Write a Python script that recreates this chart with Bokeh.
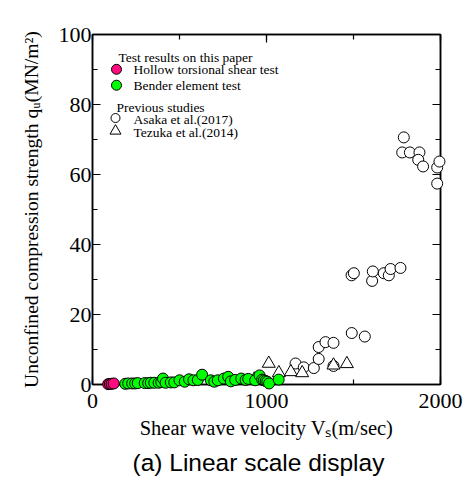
from bokeh.plotting import figure
from bokeh.models import Range1d, SingleIntervalTicker, LinearAxis, Title
from bokeh.core.properties import value
from bokeh.embed import file_html
from bokeh.resources import INLINE

# ---- data ----
hollow_vs = [90, 100, 110, 122]
hollow_qu = [0.1, 0.15, 0.2, 0.3]

bender_vs = [188, 205, 228, 245, 260, 300, 320, 335, 355, 380, 395, 405, 420, 450, 470,
             500, 530, 555, 580, 605, 630, 680, 700, 720, 755, 780, 795, 820, 855, 880,
             895, 935, 960, 975, 985, 995, 1005, 1015, 1070]
bender_qu = [0.2, 0.3, 0.3, 0.3, 0.4, 0.4, 0.4, 0.5, 0.5, 0.5, 0.7, 1.7, 0.5, 0.6, 0.6,
             1.2, 0.8, 1.5, 1.2, 1.3, 2.8, 1.2, 0.8, 1.2, 1.7, 2.2, 0.9, 1.3, 1.7, 1.3,
             1.6, 1.2, 2.6, 1.4, 1.2, 1.0, 0.8, 0.3, 1.4]

asaka_vs = [1167, 1214, 1272, 1300, 1300, 1339, 1385, 1385, 1490, 1565, 1489, 1502, 1607, 1611,
            1674, 1703, 1713, 1770, 1789, 1780, 1824, 1879, 1872, 1900, 1981, 1994, 1981]
asaka_qu = [6.0, 4.9, 4.7, 7.3, 10.7, 12.1, 11.9, 5.3, 14.7, 13.7, 31.2, 31.8, 29.6, 32.3,
            31.8, 31.2, 33.0, 33.3, 70.6, 66.3, 66.3, 66.3, 64.2, 62.3, 62.0, 63.7, 57.4]

tezuka_vs = [930, 1013, 1071, 1140, 1205, 1385, 1462]
tezuka_qu = [1.5, 6.0, 3.3, 3.6, 3.3, 5.5, 5.9]

legend_groups = ["Test results on this paper", "Previous studies"]
legend_labels = ["Hollow torsional shear test", "Bender element test",
                 "Asaka et al.(2017)", "Tezuka et al.(2014)"]

SERIF = "Liberation Serif"
SANS = "Liberation Sans"
W, H = 464, 480
BL, BT, BR, BB = 92, 34, 24, 94
FW, FH = W - BL - BR, H - BT - BB

p = figure(width=W, height=H, output_backend="svg", toolbar_location=None,
           x_range=Range1d(0, 2000), y_range=Range1d(0, 100),
           min_border_left=BL, min_border_top=BT, min_border_right=BR, min_border_bottom=BB)
# pixel-space ranges (origin at the frame's top-left) for the in-frame legend
p.extra_x_ranges = {"px": Range1d(0, FW)}
p.extra_y_ranges = {"py": Range1d(FH, 0)}

p.xaxis.ticker = SingleIntervalTicker(interval=1000, num_minor_ticks=2)
p.yaxis.ticker = SingleIntervalTicker(interval=20, num_minor_ticks=2)
p.grid.visible = False
p.outline_line_color = "black"
p.outline_line_width = 1.5

for ax in (p.xaxis[0], p.yaxis[0]):
    ax.major_tick_in = 8
    ax.major_tick_out = 0
    ax.minor_tick_in = 5
    ax.minor_tick_out = 0
    ax.axis_line_width = 1.5
    ax.major_tick_line_width = 1.2
    ax.minor_tick_line_width = 1.2
    ax.major_label_text_font = SERIF
    ax.major_label_text_font_size = "22px"
    ax.major_label_text_color = "black"
    ax.axis_label_text_font = SERIF
    ax.axis_label_text_font_style = "normal"
    ax.axis_label_text_color = "black"

p.xaxis.axis_label = "Shear wave velocity Vₛ(m/sec)"
p.yaxis.axis_label = "Unconfined compression strength qᵤ(MN/m²)"
p.xaxis.axis_label_text_font_size = "20.5px"
p.yaxis.axis_label_text_font_size = "19.6px"
p.xaxis.major_label_standoff = 9
p.yaxis.major_label_standoff = 1
p.xaxis.axis_label_standoff = 6
p.yaxis.axis_label_standoff = 14

def mirror_axis(interval):
    return LinearAxis(ticker=SingleIntervalTicker(interval=interval, num_minor_ticks=2),
                      major_tick_in=8, major_tick_out=0, minor_tick_in=5, minor_tick_out=0,
                      major_label_overrides={i * interval: "" for i in range(0, 6)},
                      major_label_standoff=0, axis_line_width=1.5,
                      major_tick_line_width=1.2, minor_tick_line_width=1.2)

p.add_layout(mirror_axis(1000), "above")
p.add_layout(mirror_axis(20), "right")

def pts(**kw):
    r = p.scatter(line_color="black", line_width=1, **kw)
    r.level = "overlay"
    return r

pts(x=asaka_vs, y=asaka_qu, marker="circle", size=11, fill_color="white")
pts(x=tezuka_vs, y=tezuka_qu, marker="triangle", size=13, fill_color="white")
pts(x=bender_vs, y=bender_qu, marker="circle", size=11, fill_color="#00ff00")
pts(x=hollow_vs, y=hollow_qu, marker="circle", size=11, fill_color="#ff0a7f")

# ---- legend drawn in frame pixel space ----
key_x = [24, 24, 23, 23]
key_y = [35, 51, 84, 97]
key_marker = ["circle", "circle", "circle", "triangle"]
key_fill = ["#ff0a7f", "#00ff00", "white", "white"]
key_size = [10, 10, 9, 11]
p.scatter(x=key_x, y=key_y, marker=key_marker, fill_color=key_fill, size=key_size,
          line_color="black", line_width=1, x_range_name="px", y_range_name="py")
p.text(x=[41, 41, 41, 41], y=[35, 51, 85, 99], text=legend_labels,
       text_font=value(SERIF), text_font_size="13.5px", text_baseline="middle",
       text_color="black", x_range_name="px", y_range_name="py")
p.text(x=[26, 24], y=[23, 73], text=legend_groups,
       text_font=value(SERIF), text_font_size="13.5px", text_baseline="middle",
       text_color="black", x_range_name="px", y_range_name="py")

p.add_layout(Title(text="(a) Linear scale display", align="left", offset=40, text_font=SANS,
                   text_font_size="24.5px", text_font_style="normal", text_color="black"), "below")

open("out.html", "w").write(file_html(p, INLINE))
